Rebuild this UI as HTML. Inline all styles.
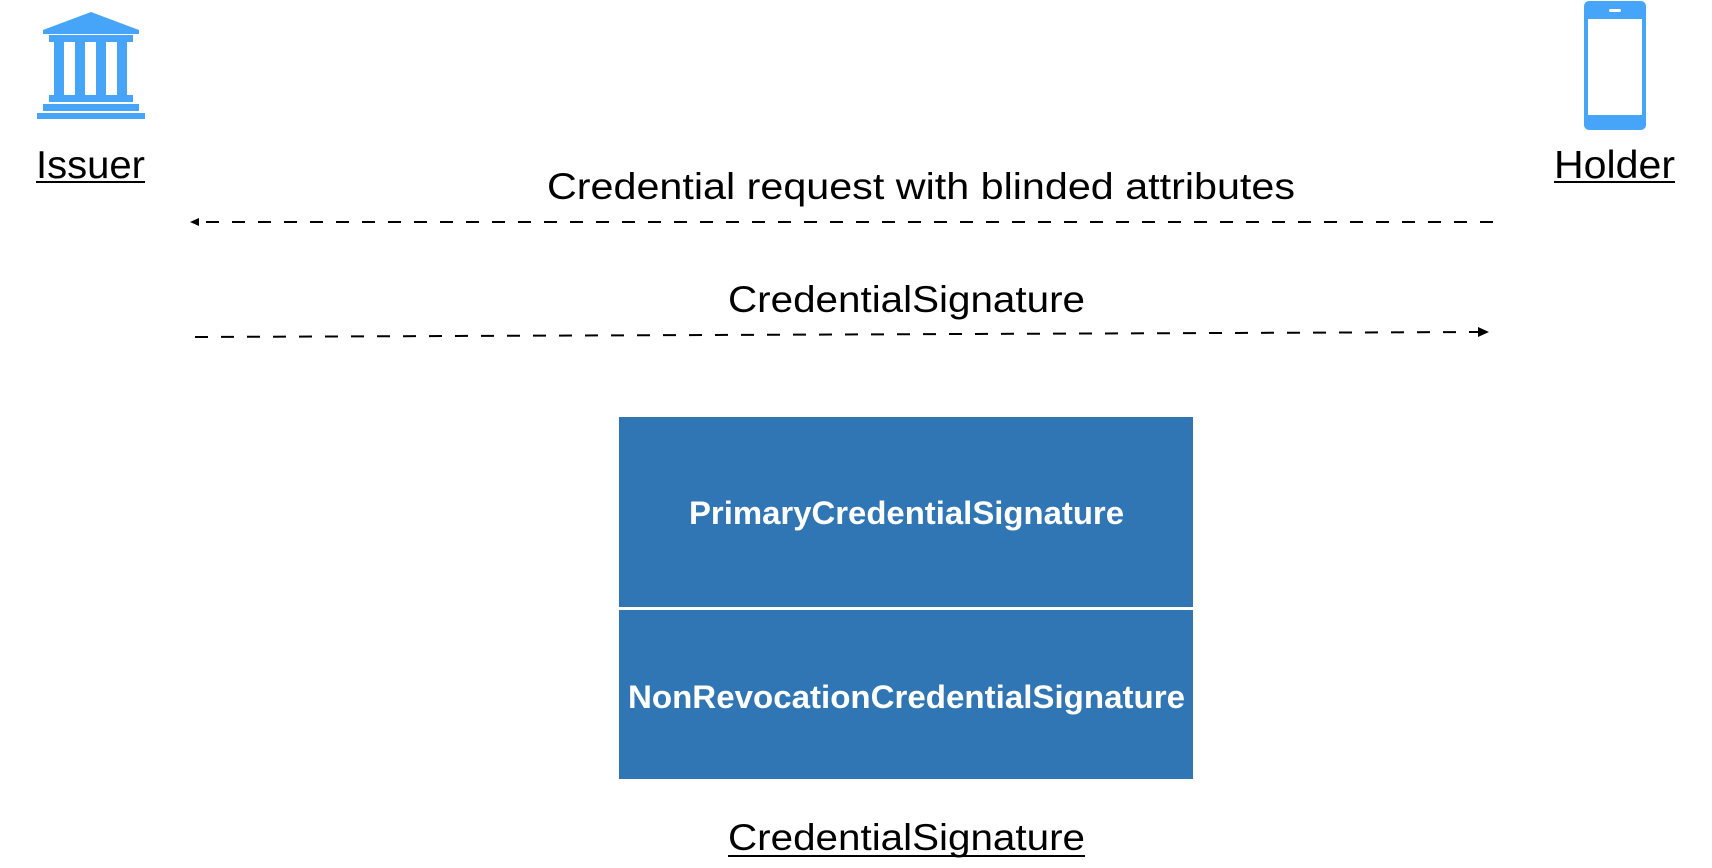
<!DOCTYPE html>
<html><head><meta charset="utf-8"><style>html,body{margin:0;padding:0;background:#fff;}svg{display:block}</style></head>
<body>
<svg width="1712" height="868" viewBox="0 0 1712 868" xmlns="http://www.w3.org/2000/svg" font-family="'Liberation Sans', Arial, sans-serif">
<!-- Issuer building -->
<g fill="#46a5f9">
<polygon points="91,12 139,30 139,34 43,34 43,30"/>
<rect x="49" y="35" width="84" height="7"/>
<rect x="54" y="42" width="10" height="53"/>
<rect x="75" y="42" width="10" height="53"/>
<rect x="96" y="42" width="10" height="53"/>
<rect x="117" y="42" width="10" height="53"/>
<rect x="49" y="95" width="84" height="7"/>
<rect x="43" y="104" width="96" height="7"/>
<rect x="37" y="113" width="108" height="6"/>
</g>
<text x="36" y="178" font-size="39" textLength="109" lengthAdjust="spacingAndGlyphs">Issuer</text>
<rect x="36" y="181" width="109" height="2" fill="#000"/>
<!-- Holder phone -->
<rect x="1584" y="1" width="62" height="129" rx="5" fill="#46a5f9"/>
<rect x="1588" y="19" width="54" height="96" fill="#fff"/>
<rect x="1609" y="9" width="12" height="3" rx="1.5" fill="#fff"/>
<text x="1554" y="178" font-size="39" textLength="121" lengthAdjust="spacingAndGlyphs">Holder</text>
<rect x="1554" y="181" width="121" height="2" fill="#000"/>
<!-- arrow 1 -->
<text x="547" y="199" font-size="37" textLength="748" lengthAdjust="spacingAndGlyphs">Credential request with blinded attributes</text>
<line x1="1493" y1="222" x2="198" y2="222" stroke="#000" stroke-width="2" stroke-dasharray="13,13"/>
<polygon points="190,222 199,218 199,226" fill="#000"/>
<!-- arrow 2 -->
<text x="728" y="312" font-size="37" textLength="357" lengthAdjust="spacingAndGlyphs">CredentialSignature</text>
<line x1="195" y1="337" x2="1478" y2="332" stroke="#000" stroke-width="2" stroke-dasharray="13,13"/>
<polygon points="1489,332 1478,327 1478,337" fill="#000"/>
<!-- boxes -->
<rect x="619" y="417" width="574" height="190" fill="#3076b5"/>
<rect x="619" y="610" width="574" height="169" fill="#3076b5"/>
<text x="689" y="524" font-size="32" font-weight="bold" fill="#fff" textLength="435" lengthAdjust="spacingAndGlyphs">PrimaryCredentialSignature</text>
<text x="628" y="708" font-size="32" font-weight="bold" fill="#fff" textLength="557" lengthAdjust="spacingAndGlyphs">NonRevocationCredentialSignature</text>
<text x="728" y="850" font-size="37" textLength="357" lengthAdjust="spacingAndGlyphs">CredentialSignature</text>
<rect x="728" y="855" width="357" height="2" fill="#000"/>
</svg>
</body></html>
